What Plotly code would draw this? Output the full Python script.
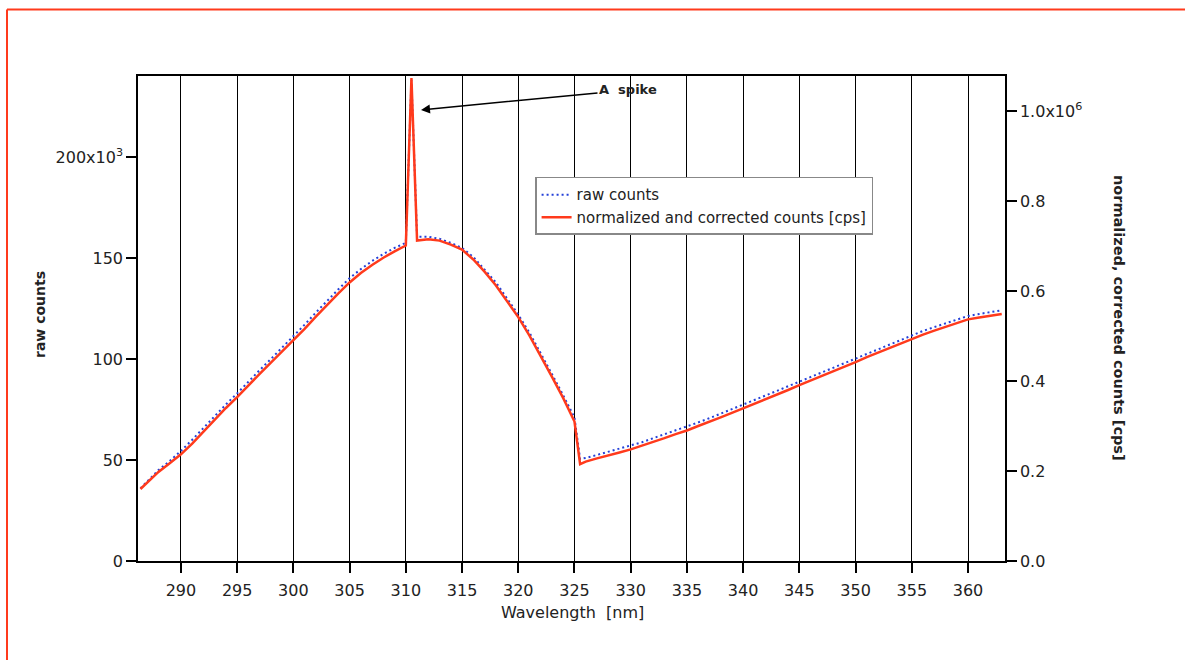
import plotly.graph_objects as go

# ---- data ----
wavelength = [286.4, 287, 288, 289, 290, 291, 292, 293, 294, 295, 296, 297, 298, 299,
              300, 301, 302, 303, 304, 305, 306, 307, 308, 309, 310, 310.5, 311, 312,
              313, 314, 315, 316, 317, 318, 319, 320, 321, 322, 323, 324, 325, 325.5,
              326, 327, 328, 329, 330, 331, 332, 333, 334, 335, 336, 337, 338, 339,
              340, 341, 342, 343, 344, 345, 346, 347, 348, 349, 350, 351, 352, 353,
              354, 355, 356, 357, 358, 359, 360, 361, 362, 363]

raw_counts_k = [36, 39.5, 45, 49.5, 54.5, 60, 66, 72, 77.5, 83, 89, 94.5, 100, 105.5,
                111, 117, 123, 129, 134.5, 140, 144.5, 148.5, 152, 155, 157.5, 238, 160.5, 160.5,
                159.5, 157.5, 155, 150.5, 144.5, 138, 130, 122, 113, 103, 92.5, 82, 71, 50.5,
                51, 52.5, 54, 55.5, 57, 58.8, 60.8, 62.7, 64.6, 66.5, 68.6, 70.7, 72.9, 75,
                77.2, 79.5, 81.8, 84.2, 86.5, 88.8, 91.1, 93.4, 95.7, 98, 100.3, 102.6, 104.9, 107.3,
                109.6, 111.9, 113.9, 115.8, 117.7, 119.5, 121.3, 122.3, 123.3, 124.1]

cps_k = [160, 174, 198, 217, 237, 261, 288, 315, 340, 364, 391, 416, 441, 466,
         489, 516, 543, 570, 595, 619, 640, 658, 674, 688, 701, 1073, 712, 715,
         712, 703, 692, 670, 643, 613, 578, 542, 501, 456, 409, 362, 310, 215,
         221, 228, 234, 241, 248, 256, 265, 273, 282, 290, 300, 309, 319, 329,
         339, 349, 359, 370, 380, 391, 401, 411, 422, 432, 442, 453, 463, 474,
         484, 494, 503, 512, 520, 528, 537, 541, 545, 549]

raw_counts = [v * 1e3 for v in raw_counts_k]
cps = [v * 1e3 for v in cps_k]

x_ticks = [290, 295, 300, 305, 310, 315, 320, 325, 330, 335, 340, 345, 350, 355, 360]
y_ticks = [0, 50e3, 100e3, 150e3, 200e3]
y_ticktext = ["0", "50", "100", "150", "200x10<sup>3</sup>"]
y2_ticks = [0, 0.2e6, 0.4e6, 0.6e6, 0.8e6, 1.0e6]
y2_ticktext = ["0.0", "0.2", "0.4", "0.6", "0.8", "1.0x10<sup>6</sup>"]

FONT = "DejaVu Sans"
RED = "#ff3a1c"
BLUE = "#2440d8"

fig = go.Figure()
fig.add_trace(go.Scatter(x=wavelength, y=raw_counts, mode="lines", name="raw counts",
                         line=dict(color=BLUE, width=2, dash="2px,3px"), yaxis="y"))
fig.add_trace(go.Scatter(x=wavelength, y=cps, mode="lines",
                         name="normalized and corrected counts [cps]",
                         line=dict(color=RED, width=2.5), yaxis="y2"))

axis_common = dict(showline=True, linecolor="black", linewidth=1.5, ticks="outside",
                   ticklen=10, tickwidth=1.5, tickcolor="black", zeroline=False,
                   tickfont=dict(family=FONT, size=16, color="#222"))

fig.update_layout(
    width=1185, height=660,
    margin=dict(l=138, r=180, t=76, b=99),
    paper_bgcolor="white", plot_bgcolor="white",
    font=dict(family=FONT, color="#222"),
    xaxis=dict(range=[286.18, 363.29], tickvals=x_ticks, showgrid=True,
               gridcolor="black", gridwidth=1, mirror=True, ticklabelstandoff=4,
               **axis_common),
    yaxis=dict(range=[0, 240.1e3], tickvals=y_ticks, ticktext=y_ticktext,
               showgrid=False, **axis_common),
    yaxis2=dict(range=[0, 1.0778e6], tickvals=y2_ticks, ticktext=y2_ticktext,
                overlaying="y", side="right", showgrid=False, **axis_common),
    showlegend=True,
    legend=dict(x=0.458, y=0.792, xanchor="left", yanchor="top",
                bgcolor="white", bordercolor="#888", borderwidth=1.5,
                font=dict(family=FONT, size=15, color="#222"),
                tracegroupgap=0, itemwidth=30),
)


def px_x(px):
    return (px - 138) / 867


def px_y(py):
    return (561 - py) / 485


fig.add_annotation(x=311.35, y=223.3e3, xref="x", yref="y",
                   ax=329.76, ay=233.2e3, axref="x", ayref="y",
                   text="<b>A  spike</b>", showarrow=True, arrowhead=2, arrowsize=1.2,
                   arrowwidth=1.5, arrowcolor="black", standoff=0,
                   font=dict(family=FONT, size=13, color="#222"))
fig.add_annotation(x=px_x(572), y=px_y(612), xref="paper", yref="paper",
                   xanchor="center", yanchor="middle",
                   text="Wavelength  [nm]", showarrow=False,
                   font=dict(family=FONT, size=16, color="#222"))
fig.add_annotation(x=px_x(40), y=px_y(315), xref="paper", yref="paper",
                   xanchor="center", yanchor="middle",
                   text="<b>raw counts</b>", showarrow=False, textangle=-90,
                   font=dict(family=FONT, size=14, color="#222"))
fig.add_annotation(x=px_x(1119), y=px_y(318), xref="paper", yref="paper",
                   xanchor="center", yanchor="middle",
                   text="<b>normalized, corrected counts [cps]</b>", showarrow=False,
                   textangle=90, font=dict(family=FONT, size=14.5, color="#222"))

# outer red frame (top and left edges)
fig.add_shape(type="line", xref="paper", yref="paper", x0=px_x(7), x1=px_x(1190),
              y0=px_y(9.5), y1=px_y(9.5), line=dict(color=RED, width=2))
fig.add_shape(type="line", xref="paper", yref="paper", x0=px_x(7), x1=px_x(7),
              y0=px_y(9.5), y1=px_y(665), line=dict(color=RED, width=2))

fig.write_html("out.html", config={"displayModeBar": False},
               post_script="document.body.style.margin='0';document.body.style.overflow='hidden';")
